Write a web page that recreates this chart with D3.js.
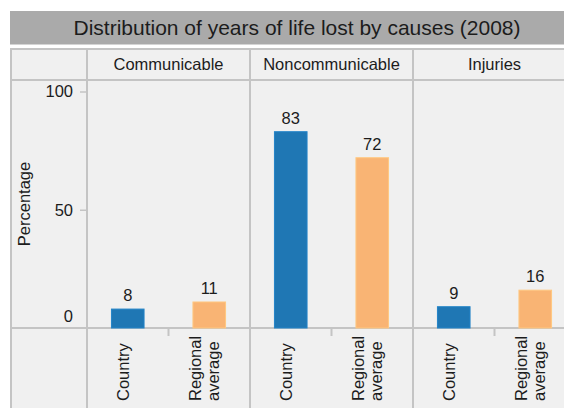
<!DOCTYPE html>
<html>
<head>
<meta charset="utf-8">
<script src="https://cdn.jsdelivr.net/npm/d3@7"></script>
<style>
body{margin:0;background:#fff;}
text{font-family:"Liberation Sans",Arial,sans-serif;fill:#1c1c1c;}
</style>
</head>
<body>
<svg id="svg" width="564" height="408"></svg>
<script>
var causes=["Communicable","Noncommunicable","Injuries"];
var groups=["Country","Regional average"];
var countryValues=[8,83,9];
var regionalValues=[11,72,16];
var yTicks=[0,50,100];
var title="Distribution of years of life lost by causes (2008)";
var colors={"Country":"#1f77b4","Regional average":"#f9b474"};

var svg=d3.select("#svg");
var gridColor="#c4c4c4";

var plotTop=80,plotBottom=328,plotLeft=87;
var x0=d3.scaleBand().domain(causes).range([plotLeft,plotLeft+163*causes.length]);
var x1=d3.scaleBand().domain(groups).range([0,x0.bandwidth()])
        .paddingInner(0.6).paddingOuter(0.3);
var y=d3.scaleLinear().domain([0,100]).range([plotBottom,91.5]);

var data=causes.map((c,i)=>({cause:c,values:[
    {group:"Country",value:countryValues[i]},
    {group:"Regional average",value:regionalValues[i]}]}));

//title bar
svg.append("rect").attr("x",10).attr("y",11).attr("width",560).attr("height",33.5).attr("fill","#aaaaaa");
svg.append("text").attr("x",297).attr("y",35).attr("text-anchor","middle")
    .style("font-size","21px").text(title);

//panel box
svg.append("rect").attr("x",11).attr("y",49).attr("width",600).attr("height",400)
    .attr("fill","#f0f0f0").attr("stroke",gridColor).attr("stroke-width",2);

//horizontal separators
[plotTop,plotBottom].forEach(v=>{
    svg.append("line").attr("x1",11).attr("x2",570).attr("y1",v).attr("y2",v)
        .attr("stroke",gridColor).attr("stroke-width",2)
});
//vertical separators
causes.forEach(c=>{
    svg.append("line").attr("x1",x0(c)).attr("x2",x0(c)).attr("y1",49).attr("y2",408)
        .attr("stroke",gridColor).attr("stroke-width",2);
    //small tick between the two labels
    svg.append("line").attr("x1",x0(c)+x0.bandwidth()/2).attr("x2",x0(c)+x0.bandwidth()/2)
        .attr("y1",plotBottom).attr("y2",plotBottom+8)
        .attr("stroke",gridColor).attr("stroke-width",2);
    svg.append("text").attr("x",x0(c)+x0.bandwidth()/2).attr("y",69.5)
        .attr("text-anchor","middle").style("font-size","16.5px").text(c);
});

//y axis
var yAxis=svg.append("g").attr("transform","translate("+plotLeft+",0)")
    .call(d3.axisLeft(y).tickValues(yTicks).tickSize(7).tickPadding(7));
yAxis.select(".domain").remove();
yAxis.selectAll(".tick line").attr("stroke",gridColor).attr("stroke-width",1.5);
yAxis.selectAll(".tick text").style("font-size","16.5px").attr("fill","#1c1c1c")
    .attr("font-family",null);
yAxis.selectAll(".tick").filter(d=>d===0).select("line").remove();
yAxis.selectAll(".tick").filter(d=>d===0).select("text").attr("dy","-0.4em");

svg.append("text").attr("transform","translate(30,"+((plotTop+plotBottom)/2)+") rotate(-90)")
    .attr("text-anchor","middle").style("font-size","16.5px").text("Percentage");

//bars
var panels=svg.selectAll(".panel").data(data).enter().append("g")
    .attr("class","panel").attr("transform",d=>"translate("+x0(d.cause)+",0)");

panels.selectAll("rect").data(d=>d.values).enter().append("rect")
    .attr("x",d=>x1(d.group)).attr("width",x1.bandwidth())
    .attr("y",d=>y(d.value)).attr("height",d=>y(0)-y(d.value))
    .attr("fill",d=>colors[d.group])
    .attr("stroke",d=>d3.color(colors[d.group]).brighter(0.3)).attr("stroke-width",1);

panels.selectAll(".val").data(d=>d.values).enter().append("text")
    .attr("class","val").attr("text-anchor","middle")
    .attr("x",d=>x1(d.group)+x1.bandwidth()/2).attr("y",d=>y(d.value)-8)
    .style("font-size","16.5px").text(d=>d.value);

//category labels, rotated
var lab=panels.selectAll(".lab").data(d=>d.values).enter().append("text")
    .attr("class","lab").style("font-size","16.5px")
    .attr("transform",d=>"translate("+(x1(d.group)+x1.bandwidth()/2)+",401) rotate(-90)");
lab.each(function(d){
    var words=d.group.split(" ");
    var t=d3.select(this);
    if(words.length==1){
        t.append("tspan").attr("x",0).attr("dy",1.5).text(words[0]);
    }else{
        t.append("tspan").attr("x",0).attr("dy",-8).text(words[0]);
        t.append("tspan").attr("x",0).attr("dy",18).text(words[1]);
    }
});
</script>
</body>
</html>
